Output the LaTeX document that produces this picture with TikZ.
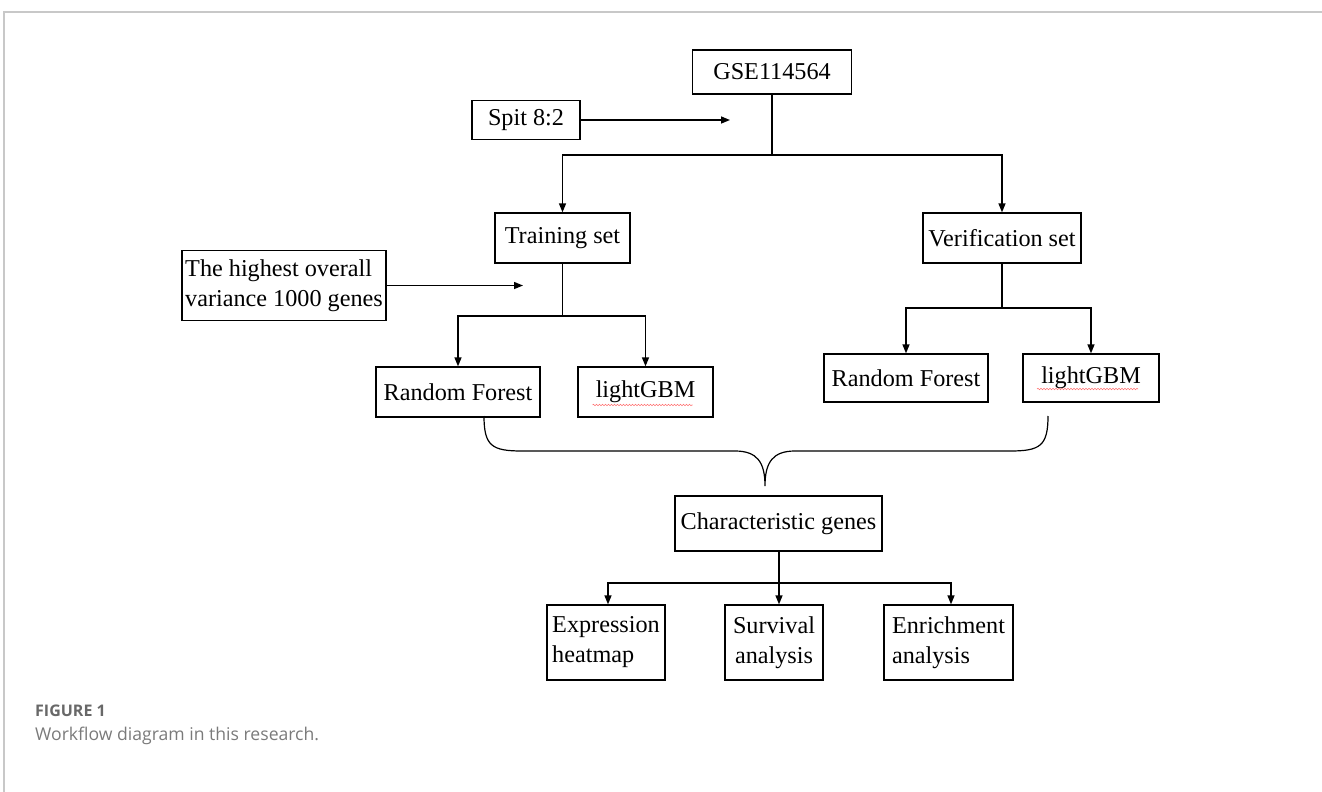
\documentclass[tikz,border=0pt]{standalone}
\usepackage{fontspec}
\setmainfont{Liberation Serif}
\newfontfamily\capfont{Open Sans}
\usepackage{tikz}
\usetikzlibrary{arrows.meta,positioning,decorations.pathmorphing}
\definecolor{capgray}{HTML}{7A7A7A}
\definecolor{framegray}{HTML}{C8C8C8}

\begin{document}
\begin{tikzpicture}[x=1pt, y=-1pt,
    box/.style={rectangle, draw, line width=1.3pt, inner sep=0pt, align=center, font=\fontsize{24.2}{30}\selectfont},
    link/.style={line width=1.4pt},
    flow/.style={link, -{Triangle[length=9pt,width=7pt]}},
    squiggle/.style={draw=red!55, line width=0.6pt, decorate, decoration={snake, amplitude=0.7pt, segment length=3pt}},
    brace/.style={line width=1.2pt}
  ]
    \useasboundingbox (0,0) rectangle (1322,792);
    \draw[framegray, line width=1.2pt] (1322,12) -- (4,12) -- (4,792);

    \node[box, minimum width=159pt, minimum height=44pt] (gse) at (772,72) {GSE114564};
    \node[box, minimum width=108pt, minimum height=39pt] (split) at (526,120) {Spit 8:2};
    \coordinate (splitend) at (730,120);
    \draw[flow] (split.east) -- (splitend);

    \node[box, minimum width=135pt, minimum height=50pt] (train) at (562.5,238) {Training set};
    \node[box, minimum width=158pt, minimum height=50pt] (verif) at (1002,238) {Verification set};
    \coordinate (gsejoin) at (772,155);
    \draw[link] (gse.south) -- (gsejoin);
    \draw[flow] (gsejoin) -| (train.north);
    \draw[flow] (gsejoin) -| (verif.north);

    \node[box, align=left, minimum width=204pt, minimum height=70pt] (highest) at (284,285.5) {The highest overall\\variance 1000 genes};
    \coordinate (highend) at (523,285.5);
    \draw[flow] (highest.east) -- (highend);

    % training branch
    \node[box, minimum width=164pt, minimum height=50pt] (rftrain) at (458,392) {Random Forest};
    \node[box, minimum width=135pt, minimum height=50pt] (gbmtrain) at (645.5,392) {lightGBM};
    \coordinate (trainjoin) at (562.5,316);
    \draw[link] (train.south) -- (trainjoin);
    \draw[flow] (trainjoin) -| (rftrain.north);
    \draw[flow] (trainjoin) -| (gbmtrain.north);

    % verification branch
    \node[box, minimum width=164pt, minimum height=48pt] (rfverif) at (906,378) {Random Forest};
    \node[box, minimum width=136pt, minimum height=48pt] (gbmverif) at (1091,378) {lightGBM};
    \coordinate (verifjoin) at (1002,308);
    \draw[link] (verif.south) -- (verifjoin);
    \draw[flow] (verifjoin) -| (rfverif.north);
    \draw[flow] (verifjoin) -| (gbmverif.north);

    \draw[squiggle] ([xshift=-53pt,yshift=-13pt]gbmtrain.center) -- ++(100,0);
    \draw[squiggle] ([xshift=-54pt,yshift=-11pt]gbmverif.center) -- ++(101,0);

    % merging brace
    \coordinate (braceL) at (484,416);
    \coordinate (braceR) at (1048,416);
    \coordinate (bracetip) at (765,486);
    \draw[brace] (braceL) .. controls (484,446) and (492,451) .. (522,451)
      -- (735,451) .. controls (757,451) and (765,462) .. (bracetip)
      .. controls (765,462) and (773,451) .. (795,451)
      -- (1010,451) .. controls (1040,451) and (1048,446) .. (braceR);

    \node[box, minimum width=207pt, minimum height=55pt] (chargenes) at (778.5,523.5) {Characteristic genes};

    \node[box, align=left, minimum width=118pt, minimum height=75pt] (heatmap) at (606,642.5) {Expression\\heatmap};
    \node[box, minimum width=98pt, minimum height=75pt] (survival) at (774,642.5) {Survival\\analysis};
    \node[box, align=left, minimum width=129pt, minimum height=75pt] (enrich) at (948.5,642.5) {Enrichment\\analysis};
    \coordinate (charjoin) at (779,583);
    \draw[link] (chargenes.south -| charjoin) -- (charjoin);
    \draw[flow] (charjoin) -| (heatmap.north -| 608,0);
    \draw[flow] (charjoin) -- (charjoin |- survival.north);
    \draw[flow] (charjoin) -| (enrich.north -| 951,0);

    % caption
    \node[anchor=west, inner sep=0pt, text=capgray!85!black, font=\capfont\bfseries\fontsize{16}{18}\selectfont] (fignum) at (35,711) {FIGURE 1};
    \node[anchor=west, inner sep=0pt, text=capgray, font=\capfont\fontsize{17.6}{20}\selectfont] (figtext) at (35,736) {Workflow diagram in this research.};
  \end{tikzpicture}
\end{document}
